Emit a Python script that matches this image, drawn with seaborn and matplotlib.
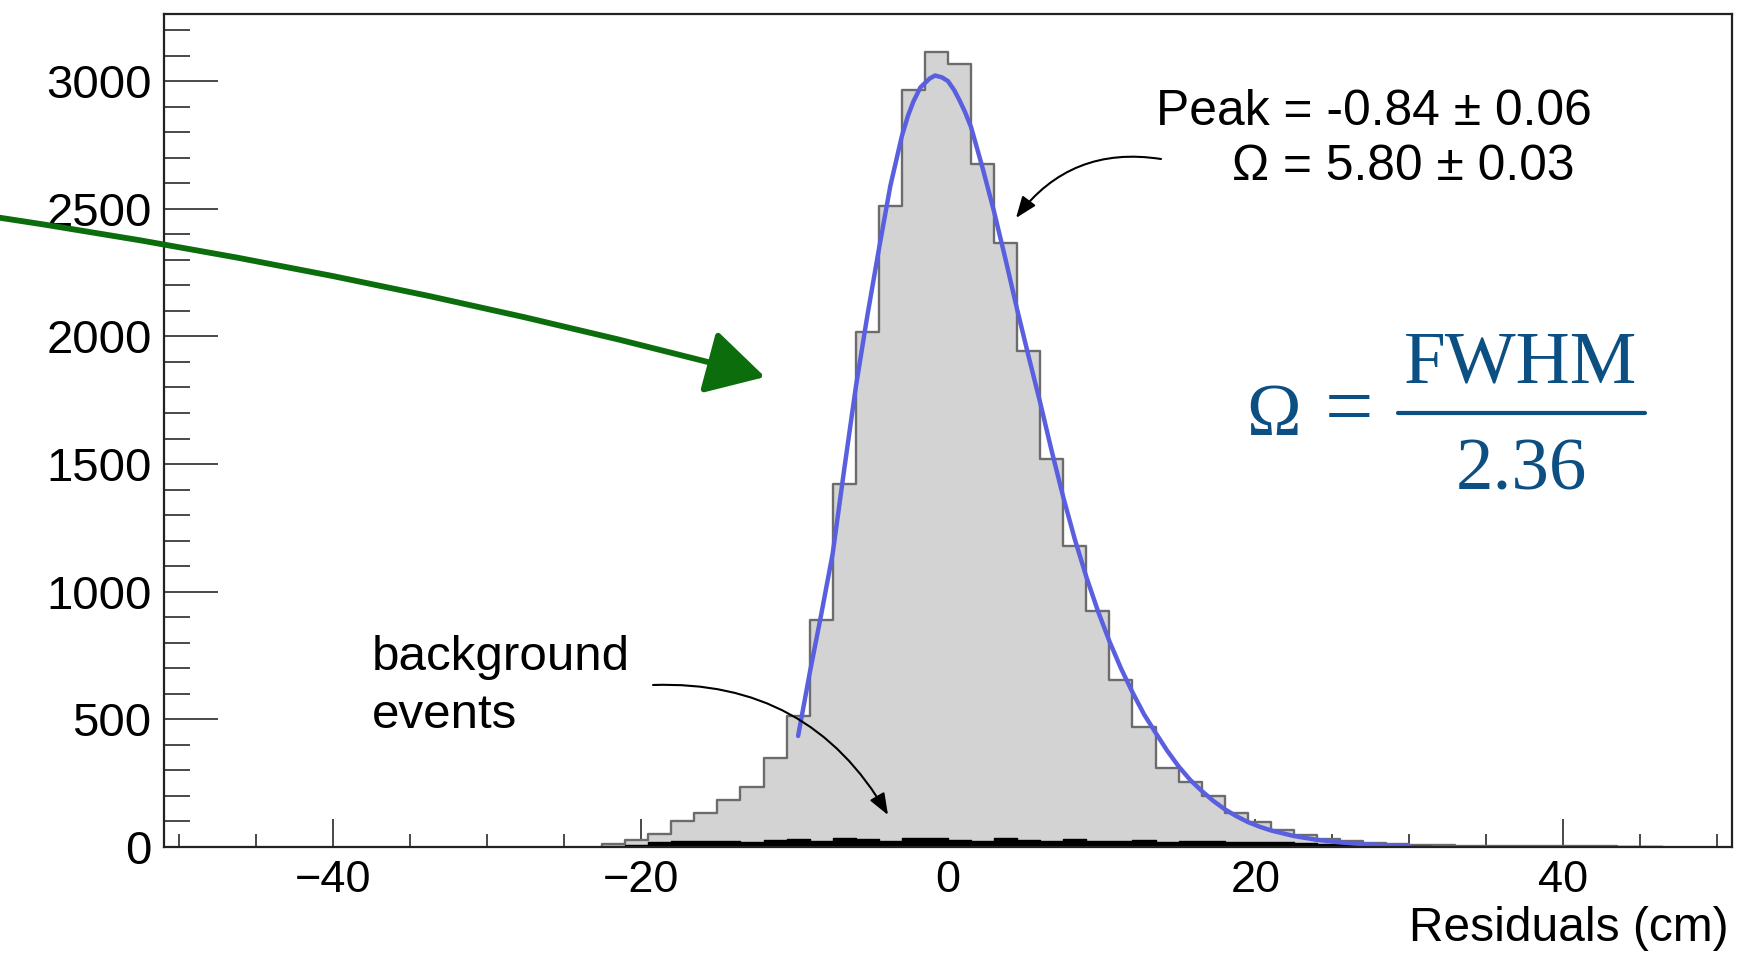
import numpy as np
import pandas as pd
import matplotlib
matplotlib.use("Agg")
import matplotlib.pyplot as plt
from matplotlib.lines import Line2D
import seaborn as sns

# ---------------- data ----------------
bin_start = -22.5          # left edge of first non-empty bin (cm)
bin_width = 1.5            # cm
signal_counts = [10, 28, 50, 100, 135, 185, 235, 350, 515, 890,
                 1420, 2017, 2509, 2965, 3113, 3068, 2674, 2367, 1944, 1520,
                 1180, 925, 655, 472, 308, 253, 198, 135, 99, 66,
                 47, 30, 22, 16, 12, 9, 6, 5, 4, 3,
                 3, 2, 2, 2, 1, 1]

background_start = -21.0
background_counts = [6, 18, 22, 24, 22, 20, 26, 30, 24, 34,
                     30, 24, 36, 34, 28, 24, 34, 28, 24, 30,
                     24, 22, 28, 20, 22, 24, 18, 20, 20, 14,
                     12, 10, 8, 6, 5]

fit_x = [-9.75, -9.0, -8.25, -7.5, -6.75, -6.0, -5.25, -4.5, -3.75, -3.0,
         -2.6, -2.25, -1.8, -1.2, -0.84, -0.4, 0.0, 0.4, 0.75, 1.1,
         1.5, 2.25, 3.0, 3.75, 4.5,
         5.25, 6.0, 6.75, 7.5, 8.25, 9.0, 9.75, 10.5, 11.25, 12.0,
         12.75, 13.5, 14.25, 15.0, 15.75, 16.5, 17.25, 18.0, 18.75, 19.5,
         20.25, 21.0, 22.5, 24.0, 25.5, 27.0, 28.5, 30.0]
fit_y = [435, 680, 910, 1150, 1480, 1800, 2080, 2340, 2590, 2785,
         2865, 2920, 2975, 3010, 3022, 3015, 3000, 2965, 2925, 2880,
         2820, 2660, 2488, 2300, 2105,
         1920, 1740, 1550, 1370, 1205, 1058, 925, 806, 700, 606,
         520, 448, 378, 316, 263, 220, 181, 148, 121, 98,
         80, 65, 43, 28, 18, 11, 7, 4]

x_major_ticks = [-40, -20, 0, 20, 40]
y_major_ticks = [0, 500, 1000, 1500, 2000, 2500, 3000]
x_label = "Residuals (cm)"
peak_text = "Peak = -0.84 \u00b1 0.06"
omega_text = "\u03a9 = 5.80 \u00b1 0.03"
bg_text = ["background", "events"]

# ---------------- style ----------------
sns.set_theme(style="white")
plt.rcParams["font.family"] = ["Liberation Sans", "DejaVu Sans"]
plt.rcParams["axes.unicode_minus"] = True

W, H = 1751, 955
fig = plt.figure(figsize=(W / 100, H / 100), dpi=100)
fig.patch.set_facecolor("white")


def fx(px):
    return px / W


def fy(py):
    return 1 - py / H


ax = fig.add_axes([fx(164), fy(847), (1732 - 164) / W, (847 - 14) / H])
ax.set_facecolor("white")

# ---------------- histograms ----------------
sig_edges = [float(v) for v in bin_start + bin_width * np.arange(len(signal_counts) + 1)]
sig_centers = [(a + b) / 2 for a, b in zip(sig_edges[:-1], sig_edges[1:])]
sig_df = pd.DataFrame({"residual": sig_centers, "count": signal_counts})
sns.histplot(data=sig_df, x="residual", weights="count", bins=sig_edges,
             element="step", fill=True, facecolor="#d3d3d3",
             edgecolor="#6c6c6c", linewidth=1.7, alpha=1, ax=ax, zorder=2)

bg_edges = [float(v) for v in background_start + bin_width * np.arange(len(background_counts) + 1)]
bg_centers = [(a + b) / 2 for a, b in zip(bg_edges[:-1], bg_edges[1:])]
bg_df = pd.DataFrame({"residual": bg_centers, "count": background_counts})
sns.histplot(data=bg_df, x="residual", weights="count", bins=bg_edges,
             element="step", fill=True, facecolor="#000000",
             edgecolor="#000000", linewidth=1.0, alpha=1, ax=ax, zorder=3)

# ---------------- fit curve ----------------
fit_df = pd.DataFrame({"x": fit_x, "y": fit_y})
sns.lineplot(data=fit_df, x="x", y="y", color="#5a5fe0", linewidth=3.2,
             ax=ax, zorder=4, sort=True, estimator=None)

# ---------------- axes ----------------
ax.set_xlim(-51, 51)
ax.set_ylim(0, 3263)
ax.set_xticks(x_major_ticks)
ax.set_xticks(np.arange(-50, 51, 5), minor=True)
ax.set_yticks(y_major_ticks)
ax.set_yticks(np.arange(0, 3201, 100), minor=True)
ax.set_xlabel("")
ax.set_ylabel("")

tick_col = "#2a2a2a"
ax.tick_params(axis="x", which="major", direction="in", length=20.5, width=1.2,
               labelsize=32.5, pad=9, top=False, bottom=True, color=tick_col,
               labelcolor="black")
ax.tick_params(axis="x", which="minor", direction="in", length=9.6, width=1.2,
               top=False, bottom=True, color=tick_col)
ax.tick_params(axis="y", which="major", direction="in", length=39, width=1.2,
               labelsize=34, pad=9, right=False, left=True, color=tick_col,
               labelcolor="black")
ax.tick_params(axis="y", which="minor", direction="in", length=18.7, width=1.2,
               right=False, left=True, color=tick_col)
for s in ax.spines.values():
    s.set_linewidth(1.6)
    s.set_color("#222222")
    s.set_zorder(6)

# ---------------- texts ----------------
fig.text(fx(1729), fy(941), x_label, ha="right", va="baseline", fontsize=34.5,
         color="black")
fig.text(fx(1156), fy(125), peak_text, ha="left", va="baseline", fontsize=35.8,
         color="black")
fig.text(fx(1232), fy(180), omega_text, ha="left", va="baseline", fontsize=35.8,
         color="black")
fig.text(fx(372), fy(670), bg_text[0], ha="left", va="baseline", fontsize=35.5,
         color="black")
fig.text(fx(372), fy(728), bg_text[1], ha="left", va="baseline", fontsize=35.5,
         color="black")

# formula Omega = FWHM / 2.36
fcol = "#0c4f82"
serif = ["Liberation Serif", "DejaVu Serif"]
fig.text(fx(1274), fy(435), "\u03a9", ha="center", va="baseline", fontsize=53,
         color=fcol, family=serif)
fig.text(fx(1349), fy(435), "=", ha="center", va="baseline", fontsize=62,
         color=fcol, family=serif)
fig.text(fx(1521), fy(382), "FWHM", ha="center", va="baseline", fontsize=54,
         color=fcol, family=serif)
fig.text(fx(1521), fy(489), "2.36", ha="center", va="baseline", fontsize=54,
         color=fcol, family=serif)
fig.add_artist(Line2D([fx(1398), fx(1645)], [fy(413), fy(413)],
                      transform=fig.transFigure, color=fcol, lw=3.0))

# ---------------- arrows ----------------
def arrow(start, end, rad, color, lw, hl, hw, ms):
    ax.annotate("", xy=(end[0], H - end[1]), xytext=(start[0], H - start[1]),
                xycoords="figure pixels", textcoords="figure pixels",
                arrowprops=dict(arrowstyle=f"-|>,head_length={hl},head_width={hw}",
                                connectionstyle=f"arc3,rad={rad}",
                                color=color, lw=lw, shrinkA=0, shrinkB=0,
                                mutation_scale=ms),
                zorder=7, annotation_clip=False)


arrow((1161, 159), (1016, 218), 0.3, "black", 1.5, 1.3, 0.5, 10)
arrow((653, 685), (888, 815), -0.3, "black", 1.5, 1.3, 0.5, 10)
arrow((-5, 217), (765, 377), -0.028, "#0b6d0b", 4.2, 1.8, 1.0, 20)

fig.savefig("out.png", dpi=100, facecolor="white")
